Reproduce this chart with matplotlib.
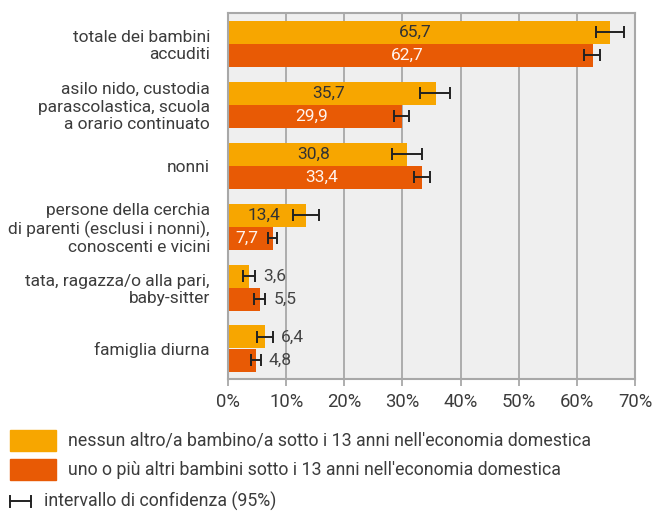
import matplotlib
matplotlib.use("Agg")
import matplotlib.pyplot as plt
import numpy as np
from matplotlib.patches import Rectangle
from matplotlib.lines import Line2D

categories = [
    "totale dei bambini\naccuditi",
    "asilo nido, custodia\nparascolastica, scuola\na orario continuato",
    "nonni",
    "persone della cerchia\ndi parenti (esclusi i nonni),\nconoscenti e vicini",
    "tata, ragazza/o alla pari,\nbaby-sitter",
    "famiglia diurna",
]
s1_name = "nessun altro/a bambino/a sotto i 13 anni nell'economia domestica"
s2_name = "uno o più altri bambini sotto i 13 anni nell'economia domestica"
ci_name = "intervallo di confidenza (95%)"
s1 = [65.7, 35.7, 30.8, 13.4, 3.6, 6.4]
s1_lo = [63.3, 33.1, 28.2, 11.1, 2.5, 5.0]
s1_hi = [68.1, 38.2, 33.3, 15.6, 4.6, 7.7]
s2 = [62.7, 29.9, 33.4, 7.7, 5.5, 4.8]
s2_lo = [61.2, 28.5, 32.0, 6.9, 4.5, 4.0]
s2_hi = [64.0, 31.2, 34.8, 8.5, 6.4, 5.6]
xticks = [0, 10, 20, 30, 40, 50, 60, 70]

C1 = "#F7A600"
C2 = "#E85A05"
TXT = "#3C3C3C"
plt.rcParams['font.family'] = ['Roboto', 'DejaVu Sans']
FS = 12.5

W, H = 655, 511
fig = plt.figure(figsize=(W/100, H/100), dpi=100)
ax = fig.add_axes([228/W, 1-379/H, (635-228)/W, (379-13)/H])
ax.set_facecolor("#EFEFEF")

n = len(categories)
y = np.arange(n)
h = 23/61
ax.barh(y - h/2, s1, height=h, color=C1, zorder=2)
ax.barh(y + h/2, s2, height=h, color=C2, zorder=2)

ekw = dict(fmt='none', ecolor="#222222", elinewidth=1.4, capsize=4, capthick=1.4, zorder=3)
s1a = np.array(s1); s2a = np.array(s2)
ax.errorbar(s1a, y - h/2, xerr=[s1a - np.array(s1_lo), np.array(s1_hi) - s1a], **ekw)
ax.errorbar(s2a, y + h/2, xerr=[s2a - np.array(s2_lo), np.array(s2_hi) - s2a], **ekw)

def fmt(v):
    return f"{v:.1f}".replace('.', ',')

for vals, his, off, col_in in [(s1, s1_hi, -h/2, "#333333"), (s2, s2_hi, h/2, "#FFF4EE")]:
    for i, (v, hi) in enumerate(zip(vals, his)):
        if v > 7:
            ax.text(v/2 - 0.6, i + off, fmt(v), ha='center', va='center', fontsize=FS,
                    color=col_in, zorder=4)
        else:
            ax.text(hi + 1.4, i + off, fmt(v), ha='left', va='center', fontsize=FS,
                    color="#444444", zorder=4)

ax.set_xlim(0, 70)
ax.set_ylim(n - 0.5, -0.5)
ax.set_xticks(xticks)
ax.set_xticklabels([f"{t}%" for t in xticks], fontsize=13.3, color=TXT)
ax.set_yticks(y)
ax.set_yticklabels(categories, fontsize=FS, color=TXT, linespacing=1.2)
ax.tick_params(axis='y', length=0, pad=13)
ax.tick_params(axis='x', length=5, width=1.3, color="#A8A8A8", pad=5)
ax.grid(axis='x', color="#A8A8A8", linewidth=1.3, zorder=1)
ax.set_axisbelow(True)
for sp in ax.spines.values():
    sp.set_color("#A8A8A8")
    sp.set_linewidth(1.5)

# legend, drawn in figure pixel coordinates
def fy(p):
    return 1 - p / H
fig.patches.append(Rectangle((10/W, fy(451)), 45.5/W, 21/H, transform=fig.transFigure, color=C1))
fig.patches.append(Rectangle((10/W, fy(480)), 45.5/W, 21/H, transform=fig.transFigure, color=C2))
LFS = 12.8
fig.text(67.5/W, fy(440.5), s1_name, ha='left', va='center', fontsize=LFS, color=TXT)
fig.text(67.5/W, fy(469.5), s2_name, ha='left', va='center', fontsize=LFS, color=TXT)
ecol = "#222222"
fig.lines.append(Line2D([10/W, 30.5/W], [fy(501), fy(501)], transform=fig.transFigure, color=ecol, lw=1.4))
fig.lines.append(Line2D([10/W, 10/W], [fy(495.5), fy(506.5)], transform=fig.transFigure, color=ecol, lw=1.4))
fig.lines.append(Line2D([30.5/W, 30.5/W], [fy(495.5), fy(506.5)], transform=fig.transFigure, color=ecol, lw=1.4))
fig.text(44/W, fy(501), ci_name, ha='left', va='center', fontsize=LFS, color=TXT)

fig.savefig("out.png", dpi=100)
